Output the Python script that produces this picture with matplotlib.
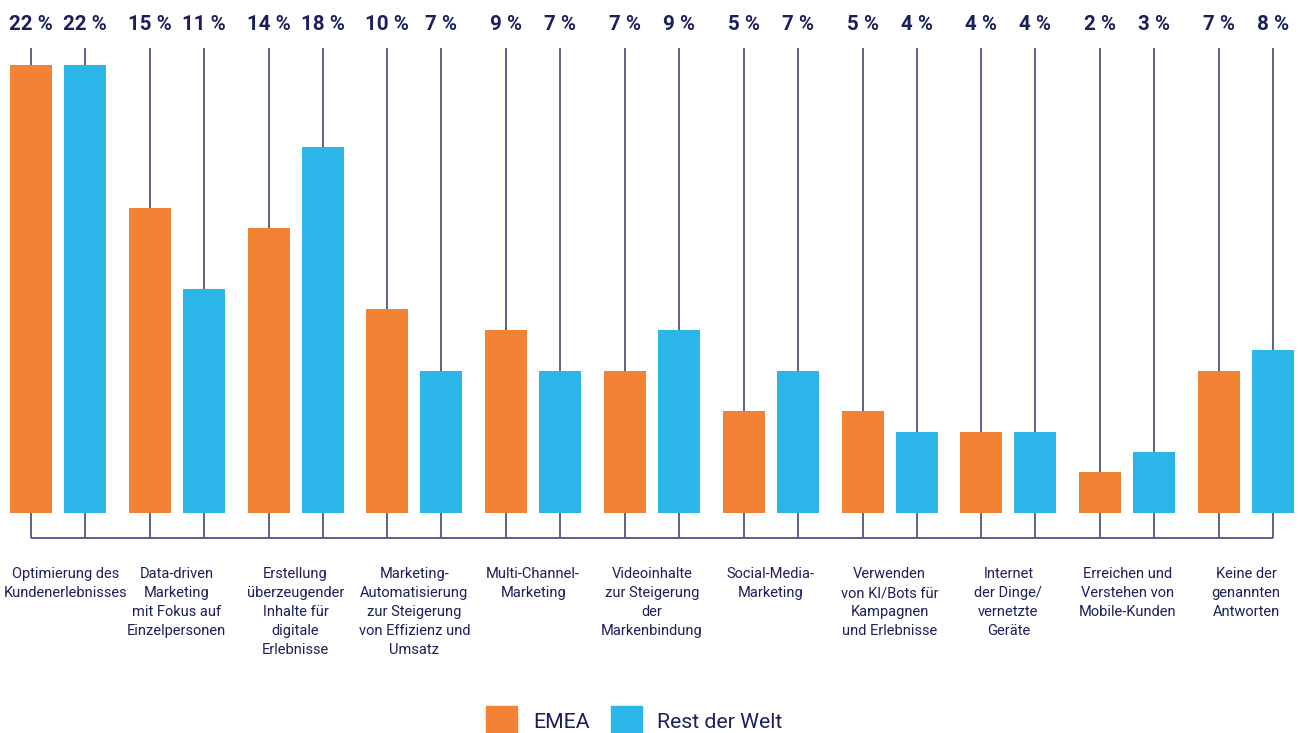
import matplotlib

matplotlib.use("Agg")
import matplotlib.pyplot as plt
from matplotlib.patches import Rectangle
import numpy as np

# survey shares per topic, in percent
categories = [
    "Optimierung des\nKundenerlebnisses",
    "Data-driven\nMarketing\nmit Fokus auf\nEinzelpersonen",
    "Erstellung\nüberzeugender\nInhalte für\ndigitale\nErlebnisse",
    "Marketing-\nAutomatisierung\nzur Steigerung\nvon Effizienz und\nUmsatz",
    "Multi-Channel-\nMarketing",
    "Videoinhalte\nzur Steigerung\nder\nMarkenbindung",
    "Social-Media-\nMarketing",
    "Verwenden\nvon KI/Bots für\nKampagnen\nund Erlebnisse",
    "Internet\nder Dinge/\nvernetzte\nGeräte",
    "Erreichen und\nVerstehen von\nMobile-Kunden",
    "Keine der\ngenannten\nAntworten",
]
emea = [22, 15, 14, 10, 9, 7, 5, 5, 4, 2, 7]
rest = [22, 11, 18, 7, 7, 9, 7, 4, 4, 3, 8]
series_names = ["EMEA", "Rest der Welt"]

ORANGE = "#F28334"
BLUE = "#2BB5E8"
NAVY = "#1B1F5C"
LINE = "#5B6088"

plt.rcParams["font.family"] = ["Roboto", "DejaVu Sans"]

fig = plt.figure(figsize=(13.01, 7.33), dpi=100)
ax = fig.add_axes([0, 0, 1, 1])
ax.set_xlim(-0.488, 10.463)
ax.set_ylim(-10.8, 25.2)
ax.axis("off")

x = np.arange(len(categories))
off, w = 0.227, 0.354
pos = np.concatenate([x - off, x + off])
vals = emea + rest

# thin stems from the value labels down to the bracket line
ax.vlines(pos, -1.23, 22.84, color=LINE, lw=1.4, zorder=1)
ax.hlines(-1.23, pos.min(), pos.max(), color=LINE, lw=1.4, zorder=1)

ax.bar(x - off, emea, w, color=ORANGE, zorder=2)
ax.bar(x + off, rest, w, color=BLUE, zorder=2)

for p, v in zip(pos, vals):
    ax.text(p, 24.0, f"{v} %", ha="center", va="center", fontsize=14.8,
            fontweight="bold", color=NAVY)

for xi, lab in zip(x, categories):
    # first label is nudged right so it stays inside the canvas
    lx = xi + 0.067 if xi == 0 else xi
    ax.text(lx, -2.65, lab, ha="center", va="top", fontsize=10.5,
            color=NAVY, linespacing=1.45)

# legend along the bottom edge
W, H = 1301, 733
for (sx, tx), name, col in zip([(486, 533), (611, 657)], series_names, [ORANGE, BLUE]):
    fig.patches.append(Rectangle((sx / W, 0), 31 / W, 27 / H, transform=fig.transFigure,
                                 color=col, figure=fig))
    fig.text(tx / W, 11 / H, name, ha="left", va="center", fontsize=15.3, color=NAVY)

fig.savefig("out.png", dpi=100)
